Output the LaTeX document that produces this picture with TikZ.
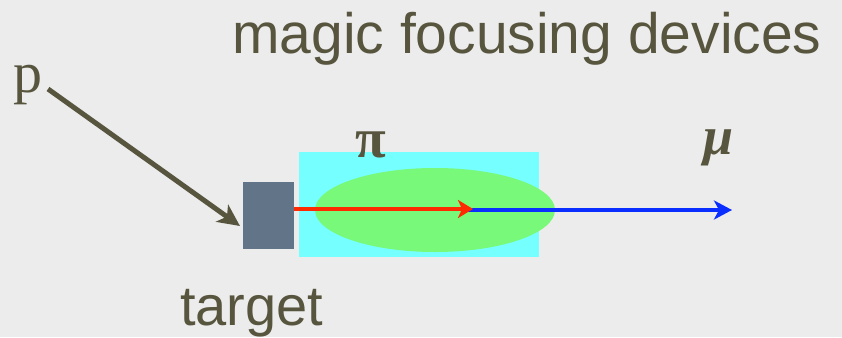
\documentclass[tikz,border=0pt]{standalone}
\usepackage{fontspec}
\setmainfont{Liberation Serif}
\newfontfamily\lsans{Liberation Sans}
\usetikzlibrary{arrows.meta,shapes.geometric}
\definecolor{bgc}{HTML}{ECECEC}
\definecolor{olive}{HTML}{58553F}
\definecolor{tgt}{HTML}{627488}
\definecolor{cyanbox}{HTML}{75FFFF}
\definecolor{greenel}{HTML}{78F97A}
\definecolor{redbeam}{HTML}{FF2A00}
\definecolor{bluebeam}{HTML}{0A2EFF}
\tikzset{
  lbl/.style={inner sep=0pt, text=olive},
  beam/.style={line width=3.5pt},
}
\begin{document}
\begin{tikzpicture}[x=1pt,y=-1pt]
\fill[bgc] (0,0) rectangle (842,337);
\useasboundingbox (0,0) rectangle (842,337);
% shapes
\node[fill=cyanbox, inner sep=0pt, minimum width=240pt, minimum height=105pt] (dev) at (419,204.5) {};
\node[fill=greenel, ellipse, inner sep=0pt, minimum width=240pt, minimum height=84pt] (foc) at (435,210) {};
\node[fill=tgt, inner sep=0pt, minimum width=51pt, minimum height=67pt] (target) at (268.5,215.5) {};
% labels
\node[lbl, anchor=base west, font=\lsans\fontsize{57}{60}\selectfont] (title) at (232,53) {magic focusing devices};
\node[lbl, anchor=base west, font=\lsans\fontsize{56}{60}\selectfont] (tlab) at (180,325) {target};
\node[lbl, anchor=base west, font=\fontsize{58}{60}\selectfont] (p) at (13,92) {p};
\node[lbl, anchor=base, font=\bfseries\fontsize{56}{60}\selectfont] (pi) at (371,157) {π};
\node[lbl, anchor=base, font=\bfseries\itshape\fontsize{54}{60}\selectfont] (mu) at (719,154) {μ};
% connectors
\coordinate (pstart) at (48,89);
\coordinate (ptip) at (240,226);
\coordinate (rtip) at (473,209);
\coordinate (bstart) at (462,210);
\coordinate (btip) at (732,210);
\draw[olive, line width=5pt, -{Stealth[length=22pt,width=21pt,inset=6pt]}] (pstart) -- (ptip);
\draw[bluebeam, beam, -{Stealth[length=18pt,width=19pt,inset=5pt]}] (bstart) -- (btip);
\draw[redbeam, beam, -{Stealth[length=15pt,width=18pt,inset=4pt]}] (target.east |- rtip) -- (rtip);
\end{tikzpicture}
\end{document}
